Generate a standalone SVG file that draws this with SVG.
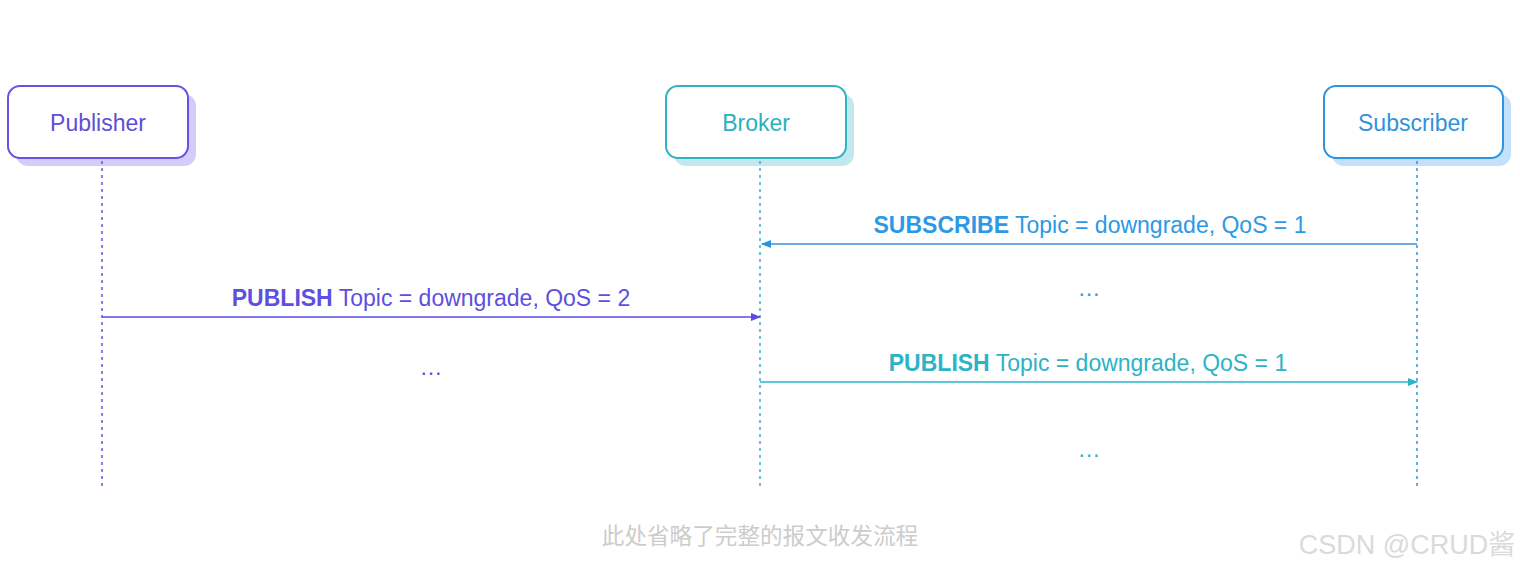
<svg xmlns="http://www.w3.org/2000/svg" width="1520" height="571" viewBox="0 0 1520 571">
<defs>
<style>
text{font-family:"Liberation Sans",Arial,"Noto Sans CJK SC",sans-serif;}
.lbl{font-size:23px;text-anchor:middle;}
.b{font-weight:bold;}
.life{stroke-width:1.5;stroke-dasharray:3 4;fill:none;}
.box{fill:#fff;stroke-width:2;}
.msg{stroke-width:1.5;fill:none;}
</style>
<marker id="aP" markerWidth="10" markerHeight="10" refX="9" refY="5" orient="auto" markerUnits="userSpaceOnUse"><path d="M0,1 L10,5 L0,9 Z" fill="#5a4be6"/></marker>
<marker id="aB" markerWidth="10" markerHeight="10" refX="9" refY="5" orient="auto" markerUnits="userSpaceOnUse"><path d="M0,1 L10,5 L0,9 Z" fill="#2ab3c6"/></marker>
<marker id="aS" markerWidth="10" markerHeight="10" refX="9" refY="5" orient="auto" markerUnits="userSpaceOnUse"><path d="M0,1 L10,5 L0,9 Z" fill="#2b94e0"/></marker>
</defs>
<rect width="1520" height="571" fill="#fff"/>
<g id="publisher">
<rect x="16" y="94" width="180" height="72" rx="12" fill="#d4ccfb"/>
<rect class="box" x="8" y="86" width="180" height="72" rx="12" stroke="#6453e6"/>
<text class="lbl" x="98" y="131" fill="#5d4fd8">Publisher</text>
</g>
<g id="broker">
<rect x="674" y="94" width="180" height="72" rx="12" fill="#bfe9ee"/>
<rect class="box" x="666" y="86" width="180" height="72" rx="12" stroke="#2fb3c4"/>
<text class="lbl" x="756" y="131" fill="#2cb0c0">Broker</text>
</g>
<g id="subscriber">
<rect x="1332" y="94" width="179" height="72" rx="12" fill="#c3e1fb"/>
<rect class="box" x="1324" y="86" width="179" height="72" rx="12" stroke="#2d95e0"/>
<text class="lbl" x="1413" y="131" fill="#2e93dd">Subscriber</text>
</g>
<g id="connectors">
<line class="life" x1="102" y1="161" x2="102" y2="486" stroke="#6453e6"/>
<line class="life" x1="760" y1="161" x2="760" y2="486" stroke="#2fb3c4"/>
<line class="life" x1="1417" y1="161" x2="1417" y2="486" stroke="#2d95e0"/>
<line class="msg" x1="1417" y1="244" x2="762" y2="244" stroke="#3b8fd6" marker-end="url(#aS)"/>
<line class="msg" x1="102" y1="317" x2="760" y2="317" stroke="#5a4be6" marker-end="url(#aP)"/>
<line class="msg" x1="760" y1="382" x2="1417" y2="382" stroke="#2ab3c6" marker-end="url(#aB)"/>
</g>
<g id="labels">
<text class="lbl" x="1090" y="233" fill="#2c98e6"><tspan class="b">SUBSCRIBE</tspan> Topic = downgrade, QoS = 1</text>
<text class="lbl" x="431" y="306" fill="#5d4fe3"><tspan class="b">PUBLISH</tspan> Topic = downgrade, QoS = 2</text>
<text class="lbl" x="1088" y="371" fill="#2bb3c6"><tspan class="b">PUBLISH</tspan> Topic = downgrade, QoS = 1</text>
<text class="lbl" x="1089" y="296" fill="#2c98e6">…</text>
<text class="lbl" x="431" y="375" fill="#5d4fe3">…</text>
<text class="lbl" x="1089" y="457" fill="#2bb3c6">…</text>
<text x="760" y="544" font-size="22.6" text-anchor="middle" fill="#cccccc" style='font-family:"Noto Sans CJK SC",sans-serif'>此处省略了完整的报文收发流程</text>
<text x="1407" y="554" font-size="27" text-anchor="middle" fill="#dadada" style='font-family:"Liberation Sans","Noto Sans CJK SC",sans-serif'>CSDN @CRUD酱</text>
</g>
</svg>
